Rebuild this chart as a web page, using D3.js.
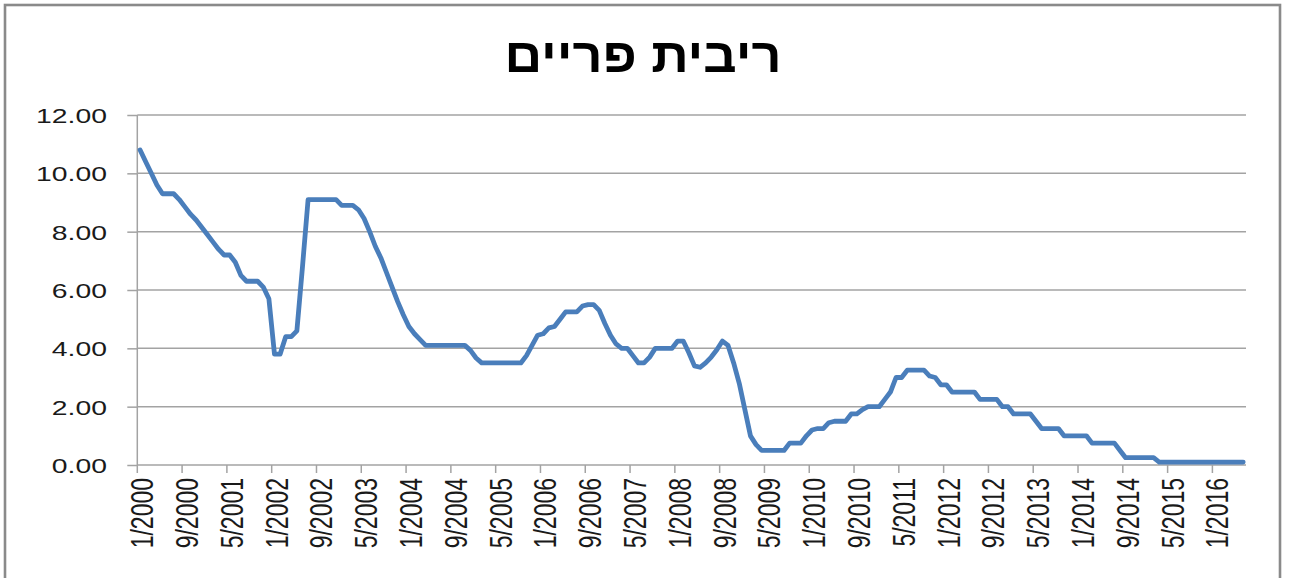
<!DOCTYPE html>
<html>
<head>
<meta charset="utf-8">
<script src="https://cdn.jsdelivr.net/npm/d3@7/dist/d3.min.js"></script>
<style>
  html, body { margin: 0; padding: 0; background: #ffffff; }
  svg { display: block; }
  text { font-family: "Liberation Sans", Arial, "DejaVu Sans", sans-serif; }
</style>
</head>
<body>
<svg id="chart" width="1289" height="578"></svg>
<script>
// ---- data ----
const title = "ריבית פריים";
const startYear = 2000;
// monthly values, 1/2000 .. 6/2016
const rate = [
  10.8, 10.4, 10.0, 9.6, 9.3, 9.3, 9.3, 9.1, 8.85, 8.6, 8.4, 8.15,
  7.9, 7.65, 7.4, 7.2, 7.2, 6.95, 6.5, 6.3, 6.3, 6.3, 6.1, 5.7,
  3.8, 3.8, 4.4, 4.4, 4.6, 6.8, 9.1, 9.1, 9.1, 9.1, 9.1, 9.1,
  8.9, 8.9, 8.9, 8.75, 8.45, 8.0, 7.5, 7.1, 6.6, 6.1, 5.6, 5.15,
  4.75, 4.5, 4.3, 4.1, 4.1, 4.1, 4.1, 4.1, 4.1, 4.1, 4.1, 3.93,
  3.67, 3.5, 3.5, 3.5, 3.5, 3.5, 3.5, 3.5, 3.5, 3.75, 4.1, 4.45,
  4.5, 4.7, 4.75, 5.0, 5.25, 5.25, 5.25, 5.45, 5.5, 5.5, 5.3, 4.85,
  4.45, 4.15, 4.0, 4.0, 3.75, 3.5, 3.5, 3.7, 4.0, 4.0, 4.0, 4.0,
  4.25, 4.25, 3.85, 3.4, 3.35, 3.5, 3.7, 3.95, 4.25, 4.1, 3.5, 2.8,
  1.9, 1.0, 0.7, 0.5, 0.5, 0.5, 0.5, 0.5, 0.75, 0.75, 0.75, 1.0,
  1.2, 1.25, 1.25, 1.45, 1.5, 1.5, 1.5, 1.75, 1.75, 1.9, 2.0, 2.0,
  2.0, 2.25, 2.5, 3.0, 3.0, 3.25, 3.25, 3.25, 3.25, 3.05, 3.0, 2.75,
  2.75, 2.5, 2.5, 2.5, 2.5, 2.5, 2.25, 2.25, 2.25, 2.25, 2.0, 2.0,
  1.75, 1.75, 1.75, 1.75, 1.5, 1.25, 1.25, 1.25, 1.25, 1.0, 1.0, 1.0,
  1.0, 1.0, 0.75, 0.75, 0.75, 0.75, 0.75, 0.5, 0.25, 0.25, 0.25, 0.25,
  0.25, 0.25, 0.1, 0.1, 0.1, 0.1, 0.1, 0.1, 0.1, 0.1, 0.1, 0.1,
  0.1, 0.1, 0.1, 0.1, 0.1, 0.1
];
const xTickLabels = ["1/2000","9/2000","5/2001","1/2002","9/2002","5/2003","1/2004","9/2004",
  "5/2005","1/2006","9/2006","5/2007","1/2008","9/2008","5/2009","1/2010","9/2010","5/2011",
  "1/2012","9/2012","5/2013","1/2014","9/2014","5/2015","1/2016"];
const yTicks = [0, 2, 4, 6, 8, 10, 12];

// category labels (month/year) for each value
const months = rate.map((v, k) => ((k % 12) + 1) + "/" + (startYear + Math.floor(k / 12)));

(function draw() {
  const svg = d3.select("#chart");
  const pLeft = 137.3, pRight = 1246, pTop = 115, pBottom = 465;
  const stretch = 1.35;

  svg.append("rect").attr("x", 0).attr("y", 0).attr("width", 1289).attr("height", 578).attr("fill", "#fff");
  svg.append("rect").attr("x", 5).attr("y", 5).attr("width", 1275).attr("height", 640)
    .attr("fill", "none").attr("stroke", "#8a8a8a").attr("stroke-width", 2.6);

  const x = d3.scaleBand().domain(months).range([pLeft, pRight]).paddingInner(0).paddingOuter(0);
  const y = d3.scaleLinear().domain([0, 12]).range([pBottom, pTop]);
  const cx = d => x(d) + x.bandwidth() / 2;

  // gridlines
  svg.append("g").selectAll("line").data(yTicks.filter(d => d > 0)).join("line")
    .attr("x1", pLeft).attr("x2", pRight)
    .attr("y1", d => y(d)).attr("y2", d => y(d))
    .attr("stroke", "#a3a3a3").attr("stroke-width", 1.5);

  // y axis
  const yAxis = d3.axisLeft(y).tickValues(yTicks).tickFormat(d3.format(".2f")).tickSize(10).tickPadding(0);
  const gy = svg.append("g").attr("transform", `translate(${pLeft},0)`).call(yAxis);
  gy.select(".domain").attr("stroke", "#a3a3a3").attr("stroke-width", 1.5).attr("d", `M0,${pTop}V${pBottom}`);
  gy.selectAll(".tick line").attr("stroke", "#a3a3a3").attr("stroke-width", 1.5);
  gy.selectAll(".tick text")
    .attr("x", null).attr("dy", "0.36em")
    .attr("transform", `translate(${107 - pLeft},0) scale(${stretch},1)`)
    .attr("text-anchor", "end")
    .attr("fill", "#1a1a1a")
    .style("font-size", "21px")
    .style("font-family", "'Liberation Sans', Arial, sans-serif");

  // x axis
  svg.append("line").attr("x1", pLeft).attr("x2", pRight).attr("y1", pBottom).attr("y2", pBottom)
    .attr("stroke", "#a3a3a3").attr("stroke-width", 1.5);
  svg.append("g").selectAll("line").data(xTickLabels).join("line")
    .attr("x1", d => x(d)).attr("x2", d => x(d))
    .attr("y1", pBottom).attr("y2", pBottom + 8)
    .attr("stroke", "#a3a3a3").attr("stroke-width", 1.5);
  svg.append("g").selectAll("text").data(xTickLabels).join("text")
    .attr("transform", d => `translate(${cx(d) + 2},478) scale(${stretch},1) rotate(-90)`)
    .attr("text-anchor", "end")
    .attr("dy", "0.36em")
    .attr("fill", "#1a1a1a")
    .style("font-size", "23px")
    .text(d => d);

  // line
  const line = d3.line().x((d, k) => cx(months[k])).y(d => y(d)).curve(d3.curveLinear);
  svg.append("path").datum(rate)
    .attr("d", line)
    .attr("fill", "none")
    .attr("stroke", "#4a7ebb")
    .attr("stroke-width", 4.8)
    .attr("stroke-linejoin", "round")
    .attr("stroke-linecap", "round");

  // title
  const t = svg.append("text")
    .attr("text-anchor", "middle")
    .attr("fill", "#000")
    .style("font-size", "48px")
    .style("font-weight", "bold")
    .text(title);
  const len = t.node().getComputedTextLength();
  const sx = 277 / len;
  t.attr("transform", `translate(643,72) scale(${sx},1)`);
})();
</script>
</body>
</html>
